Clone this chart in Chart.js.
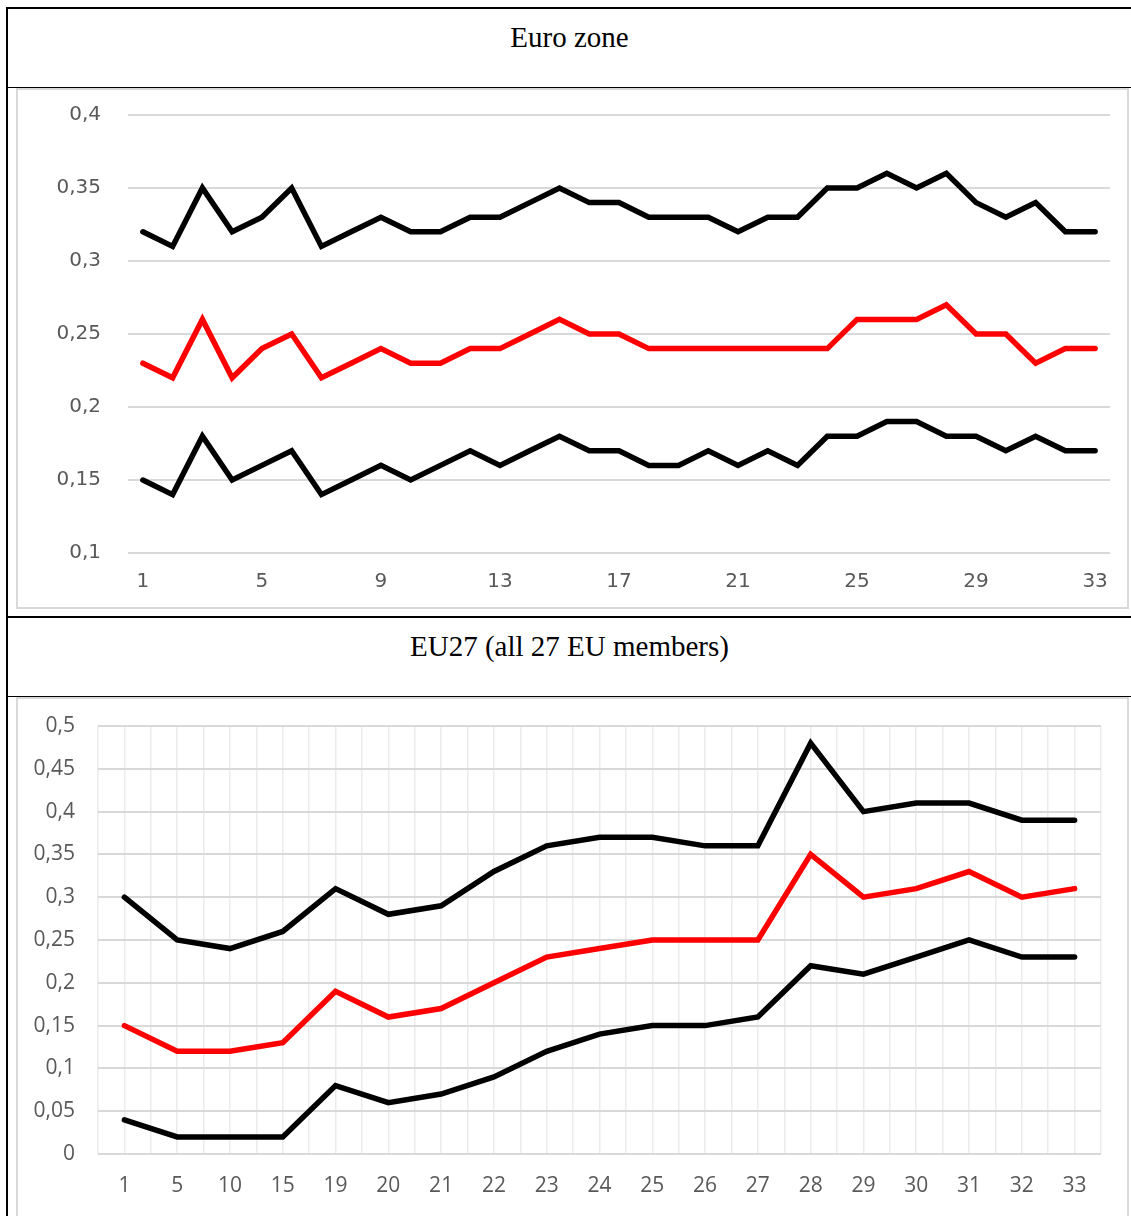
<!DOCTYPE html>
<html>
<head>
<meta charset="utf-8">
<script src="https://cdn.jsdelivr.net/npm/chart.js@4"></script>
<style>
  html, body { margin: 0; padding: 0; background: #fff; }
  body { width: 1131px; height: 1216px; position: relative; overflow: hidden; }
  .line { position: absolute; background: #000; }
  .head {
    position: absolute; left: 8px; width: 1123px; text-align: center;
    font-family: "Liberation Serif", "Times New Roman", serif; font-size: 29px;
    line-height: 32px; color: #000;
  }
  .box { position: absolute; box-sizing: border-box; border: 2px solid #d9d9d9; background: #fff; }
  .wrap { position: absolute; }
</style>
</head>
<body>
<div class="line" style="left:6px; top:7px; width:1125px; height:2px;"></div>
<div class="line" style="left:6px; top:7px; width:2px; height:1209px;"></div>
<div class="line" style="left:8px; top:87px; width:1123px; height:1px;"></div>
<div class="line" style="left:8px; top:616px; width:1123px; height:2px;"></div>
<div class="line" style="left:8px; top:696px; width:1123px; height:1px;"></div>

<div class="head" style="top:21px;">Euro zone</div>
<div class="head" style="top:630px;">EU27 (all 27 EU members)</div>

<div class="box" style="left:16px; top:88px; width:1113px; height:521px;"></div>
<div class="box" style="left:16px; top:697px; width:1113px; height:521px;"></div>

<div class="wrap" style="left:18px; top:90px; width:1109px; height:517px;"><canvas id="euroChart"></canvas></div>
<div class="wrap" style="left:18px; top:699px; width:1109px; height:516px;"><canvas id="eu27Chart"></canvas></div>

<script>
// Euro zone panel
var euroLabels = ["1","2","3","4","5","6","7","8","9","10","11","12","13","14","15","16","17",
                  "18","19","20","21","22","23","24","25","26","27","28","29","30","31","32","33"];
var euroUpper = [0.32,0.31,0.35,0.32,0.33,0.35,0.31,0.32,0.33,0.32,0.32,0.33,0.33,0.34,0.35,0.34,0.34,
                 0.33,0.33,0.33,0.32,0.33,0.33,0.35,0.35,0.36,0.35,0.36,0.34,0.33,0.34,0.32,0.32];
var euroMid   = [0.23,0.22,0.26,0.22,0.24,0.25,0.22,0.23,0.24,0.23,0.23,0.24,0.24,0.25,0.26,0.25,0.25,
                 0.24,0.24,0.24,0.24,0.24,0.24,0.24,0.26,0.26,0.26,0.27,0.25,0.25,0.23,0.24,0.24];
var euroLower = [0.15,0.14,0.18,0.15,0.16,0.17,0.14,0.15,0.16,0.15,0.16,0.17,0.16,0.17,0.18,0.17,0.17,
                 0.16,0.16,0.17,0.16,0.17,0.16,0.18,0.18,0.19,0.19,0.18,0.18,0.17,0.18,0.17,0.17];
var euroRange = [0.1, 0.4, 0.05];

// EU27 panel
var eu27Labels = ["1","5","10","15","19","20","21","22","23","24","25","26","27","28","29","30","31","32","33"];
var eu27Upper = [0.30,0.25,0.24,0.26,0.31,0.28,0.29,0.33,0.36,0.37,0.37,0.36,0.36,0.48,0.40,0.41,0.41,0.39,0.39];
var eu27Mid   = [0.15,0.12,0.12,0.13,0.19,0.16,0.17,0.20,0.23,0.24,0.25,0.25,0.25,0.35,0.30,0.31,0.33,0.30,0.31];
var eu27Lower = [0.04,0.02,0.02,0.02,0.08,0.06,0.07,0.09,0.12,0.14,0.15,0.15,0.16,0.22,0.21,0.23,0.25,0.23,0.23];
var eu27Range = [0, 0.5, 0.05];

function comma(v) {
    return String(Math.round(v * 100) / 100).replace('.', ',');
}

function lineSet(values, color) {
    return {
        data: values,
        borderColor: color,
        borderWidth: 5.5,
        pointRadius: 0,
        tension: 0,
        fill: false,
        borderCapStyle: 'round'
    };
}

// fixed y axis width; drop the vertical padding the tick padding would add
function fixY(width) {
    return function (scale) {
        scale.width = width;
        scale.paddingTop = 0;
        scale.paddingBottom = 0;
    };
}

var euroCtx = document.getElementById("euroChart").getContext('2d');

var euroChart = new Chart(euroCtx,
{
    type: 'line',
    data:
    {
        labels: euroLabels,
        datasets: [
            lineSet(euroUpper, '#000000'),
            lineSet(euroMid, '#ff0000'),
            lineSet(euroLower, '#000000')
        ]
    },
    options:
    {
        responsive: true,
        maintainAspectRatio: false,
        animation: false,
        layout: { padding: { left: 0, right: 17, top: 25, bottom: 0 } },
        plugins: { legend: { display: false }, tooltip: { enabled: false } },
        scales:
        {
            x:
            {
                offset: true,
                grid: { display: false },
                border: { display: false },
                ticks:
                {
                    autoSkip: false,
                    maxRotation: 0,
                    padding: 9,
                    color: '#595959',
                    font: { family: 'DejaVu Sans', size: 20 },
                    callback: function (v, i) { return i % 4 === 0 ? euroLabels[i] : ''; }
                },
                afterFit: function (scale) { scale.height = 54; }
            },
            y:
            {
                min: euroRange[0],
                max: euroRange[1],
                border: { display: false },
                grid: { color: '#d9d9d9', lineWidth: 2, drawTicks: false },
                ticks:
                {
                    stepSize: euroRange[2],
                    padding: 27,
                    color: '#595959',
                    font: { family: 'DejaVu Sans', size: 20 },
                    callback: function (v) { return comma(v); }
                },
                afterFit: fixY(110)
            }
        }
    }
});

var eu27Ctx = document.getElementById("eu27Chart").getContext('2d');

var eu27Chart = new Chart(eu27Ctx,
{
    type: 'line',
    data:
    {
        labels: eu27Labels,
        datasets: [
            lineSet(eu27Upper, '#000000'),
            lineSet(eu27Mid, '#ff0000'),
            lineSet(eu27Lower, '#000000')
        ]
    },
    options:
    {
        responsive: true,
        maintainAspectRatio: false,
        animation: false,
        layout: { padding: { left: 0, right: 26, top: 27, bottom: 0 } },
        plugins: { legend: { display: false }, tooltip: { enabled: false } },
        scales:
        {
            x:
            {
                offset: true,
                border: { display: false },
                grid: { offset: true, color: '#ebebeb', lineWidth: 1.5, drawTicks: false },
                ticks:
                {
                    autoSkip: false,
                    maxRotation: 0,
                    padding: 19,
                    color: '#595959',
                    font: { family: 'Open Sans', size: 21 }
                },
                afterFit: function (scale) { scale.height = 61; }
            },
            // second category axis only to draw the grid lines through the category centres
            x2:
            {
                type: 'category',
                position: 'top',
                offset: true,
                border: { display: false },
                grid: { offset: false, color: '#ebebeb', lineWidth: 1.5, drawTicks: false },
                ticks: { display: false },
                afterFit: function (scale) { scale.height = 0; }
            },
            y:
            {
                min: eu27Range[0],
                max: eu27Range[1],
                border: { display: false },
                grid: { color: '#d9d9d9', lineWidth: 2, drawTicks: false },
                ticks:
                {
                    stepSize: eu27Range[2],
                    padding: 23,
                    color: '#595959',
                    font: { family: 'Open Sans', size: 21 },
                    callback: function (v) { return comma(v); }
                },
                afterFit: fixY(80)
            }
        }
    }
});
</script>
</body>
</html>
